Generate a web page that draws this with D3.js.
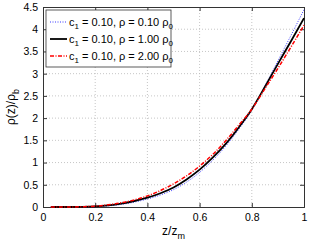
<!DOCTYPE html>
<html>
<head>
<meta charset="utf-8">
<script src="https://cdn.jsdelivr.net/npm/d3@7"></script>
<style>
  body { margin: 0; background: #fff; }
  text { font-family: "Liberation Sans", Arial, sans-serif; fill: #000; }
</style>
</head>
<body>
<div class="chart"></div>
<script>
// data
var zValues = [0.03, 0.1, 0.15, 0.2, 0.25, 0.3, 0.35, 0.4, 0.45, 0.5, 0.55, 0.6, 0.65, 0.7, 0.75, 0.8, 0.85, 0.9, 0.95, 1.0];
var rhoLow  = [0, 0.0004, 0.002, 0.008, 0.025, 0.058, 0.11, 0.18, 0.27, 0.39, 0.56, 0.78, 1.05, 1.37, 1.75, 2.18, 2.72, 3.29, 3.86, 4.44];
var rhoMid  = [0, 0.0005, 0.003, 0.012, 0.035, 0.075, 0.135, 0.21, 0.31, 0.44, 0.62, 0.84, 1.11, 1.42, 1.79, 2.2, 2.7, 3.22, 3.73, 4.25];
var rhoHigh = [0, 0.001, 0.006, 0.018, 0.05, 0.095, 0.16, 0.25, 0.37, 0.52, 0.7, 0.92, 1.18, 1.49, 1.84, 2.2, 2.66, 3.12, 3.6, 4.09];
var seriesNames = ["0.10", "1.00", "2.00"];
var xTicks = [0, 0.2, 0.4, 0.6, 0.8, 1];
var yTicks = [0, 0.5, 1, 1.5, 2, 2.5, 3, 3.5, 4, 4.5];

var svgWidth = 311;
var svgHeight = 241;
var margin = { top: 7, right: 7, bottom: 34, left: 43 };
var width = svgWidth - margin.left - margin.right;
var height = svgHeight - margin.top - margin.bottom;

var svg = d3.select(".chart")
  .append("svg")
  .attr("width", svgWidth)
  .attr("height", svgHeight);

var chartGroup = svg.append("g")
  .attr("transform", `translate(${margin.left}, ${margin.top})`);

var xScale = d3.scaleLinear().domain([0, 1]).range([0, width]);
var yScale = d3.scaleLinear().domain([0, 4.5]).range([height, 0]);

// grid
chartGroup.append("g")
  .selectAll("line")
  .data(xTicks.slice(1, -1))
  .enter()
  .append("line")
  .attr("x1", d => xScale(d)).attr("x2", d => xScale(d))
  .attr("y1", 0).attr("y2", height)
  .attr("stroke", "#b8b8b8").attr("stroke-width", 0.8)
  .attr("stroke-dasharray", "1,2");

chartGroup.append("g")
  .selectAll("line")
  .data(yTicks.slice(1, -1))
  .enter()
  .append("line")
  .attr("x1", 0).attr("x2", width)
  .attr("y1", d => yScale(d)).attr("y2", d => yScale(d))
  .attr("stroke", "#b8b8b8").attr("stroke-width", 0.8)
  .attr("stroke-dasharray", "1,2");

// axes, ticks inward
var bottomAxis = d3.axisBottom(xScale).tickValues(xTicks).tickSize(-4).tickPadding(7).tickFormat(d3.format("~g"));
var leftAxis = d3.axisLeft(yScale).tickValues(yTicks).tickSize(-4).tickPadding(5).tickFormat(d3.format("~g"));
var topAxis = d3.axisTop(xScale).tickValues(xTicks).tickSize(-4).tickFormat("");
var rightAxis = d3.axisRight(yScale).tickValues(yTicks).tickSize(-4).tickFormat("");

[
  [bottomAxis, `translate(0, ${height})`],
  [leftAxis, "translate(0, 0)"],
  [topAxis, "translate(0, 0)"],
  [rightAxis, `translate(${width}, 0)`]
].forEach(function(a) {
  var g = chartGroup.append("g").attr("transform", a[1]).call(a[0]);
  g.select(".domain").attr("stroke", "#333");
  g.selectAll(".tick line").attr("stroke", "#333");
  g.selectAll("text").attr("font-size", "10.5px").style("font-family", "Liberation Sans, Arial, sans-serif");
});

// curves
var series = [
  { values: rhoLow, color: "#3a3aff", width: 1, dash: "1,1.5" },
  { values: rhoMid, color: "#000", width: 1.8, dash: null },
  { values: rhoHigh, color: "#ff0000", width: 1.5, dash: "4,1.5,1,1.5" }
];

var line = d3.line()
  .x(d => xScale(d[0]))
  .y(d => yScale(d[1]))
  .curve(d3.curveMonotoneX);

series.forEach(function(s) {
  chartGroup.append("path")
    .datum(zValues.map((z, i) => [z, s.values[i]]))
    .attr("d", line)
    .attr("fill", "none")
    .attr("stroke", s.color)
    .attr("stroke-width", s.width)
    .attr("stroke-dasharray", s.dash);
});

// legend
var legend = chartGroup.append("g").attr("transform", "translate(3, 3)");
legend.append("rect")
  .attr("width", 125).attr("height", 57)
  .attr("fill", "#fff").attr("stroke", "#333").attr("stroke-width", 0.8);

series.forEach(function(s, i) {
  var y = 12 + i * 17;
  legend.append("line")
    .attr("x1", 4).attr("x2", 21).attr("y1", y).attr("y2", y)
    .attr("stroke", s.color).attr("stroke-width", s.width)
    .attr("stroke-dasharray", s.dash);
  var t = legend.append("text")
    .attr("x", 23).attr("y", y + 4)
    .attr("font-size", "11px");
  t.append("tspan").text("c");
  t.append("tspan").attr("font-size", "8px").attr("dy", 3).text("1");
  t.append("tspan").attr("dy", -3).text(" = 0.10, \u03c1 = " + seriesNames[i] + " \u03c1");
  t.append("tspan").attr("font-size", "8px").attr("dy", 3).text("0");
});

// axis labels
var xl = chartGroup.append("text")
  .attr("x", width / 2).attr("y", height + 28)
  .attr("text-anchor", "middle")
  .attr("font-size", "12px");
xl.append("tspan").text("z/z");
xl.append("tspan").attr("font-size", "9px").attr("dy", 4).text("m");

var yl = chartGroup.append("text")
  .attr("transform", "rotate(-90)")
  .attr("x", -height / 2).attr("y", -28)
  .attr("text-anchor", "middle")
  .attr("font-size", "12px");
yl.append("tspan").text("\u03c1(z)/\u03c1");
yl.append("tspan").attr("font-size", "9px").attr("dy", 4).text("b");
</script>
</body>
</html>
